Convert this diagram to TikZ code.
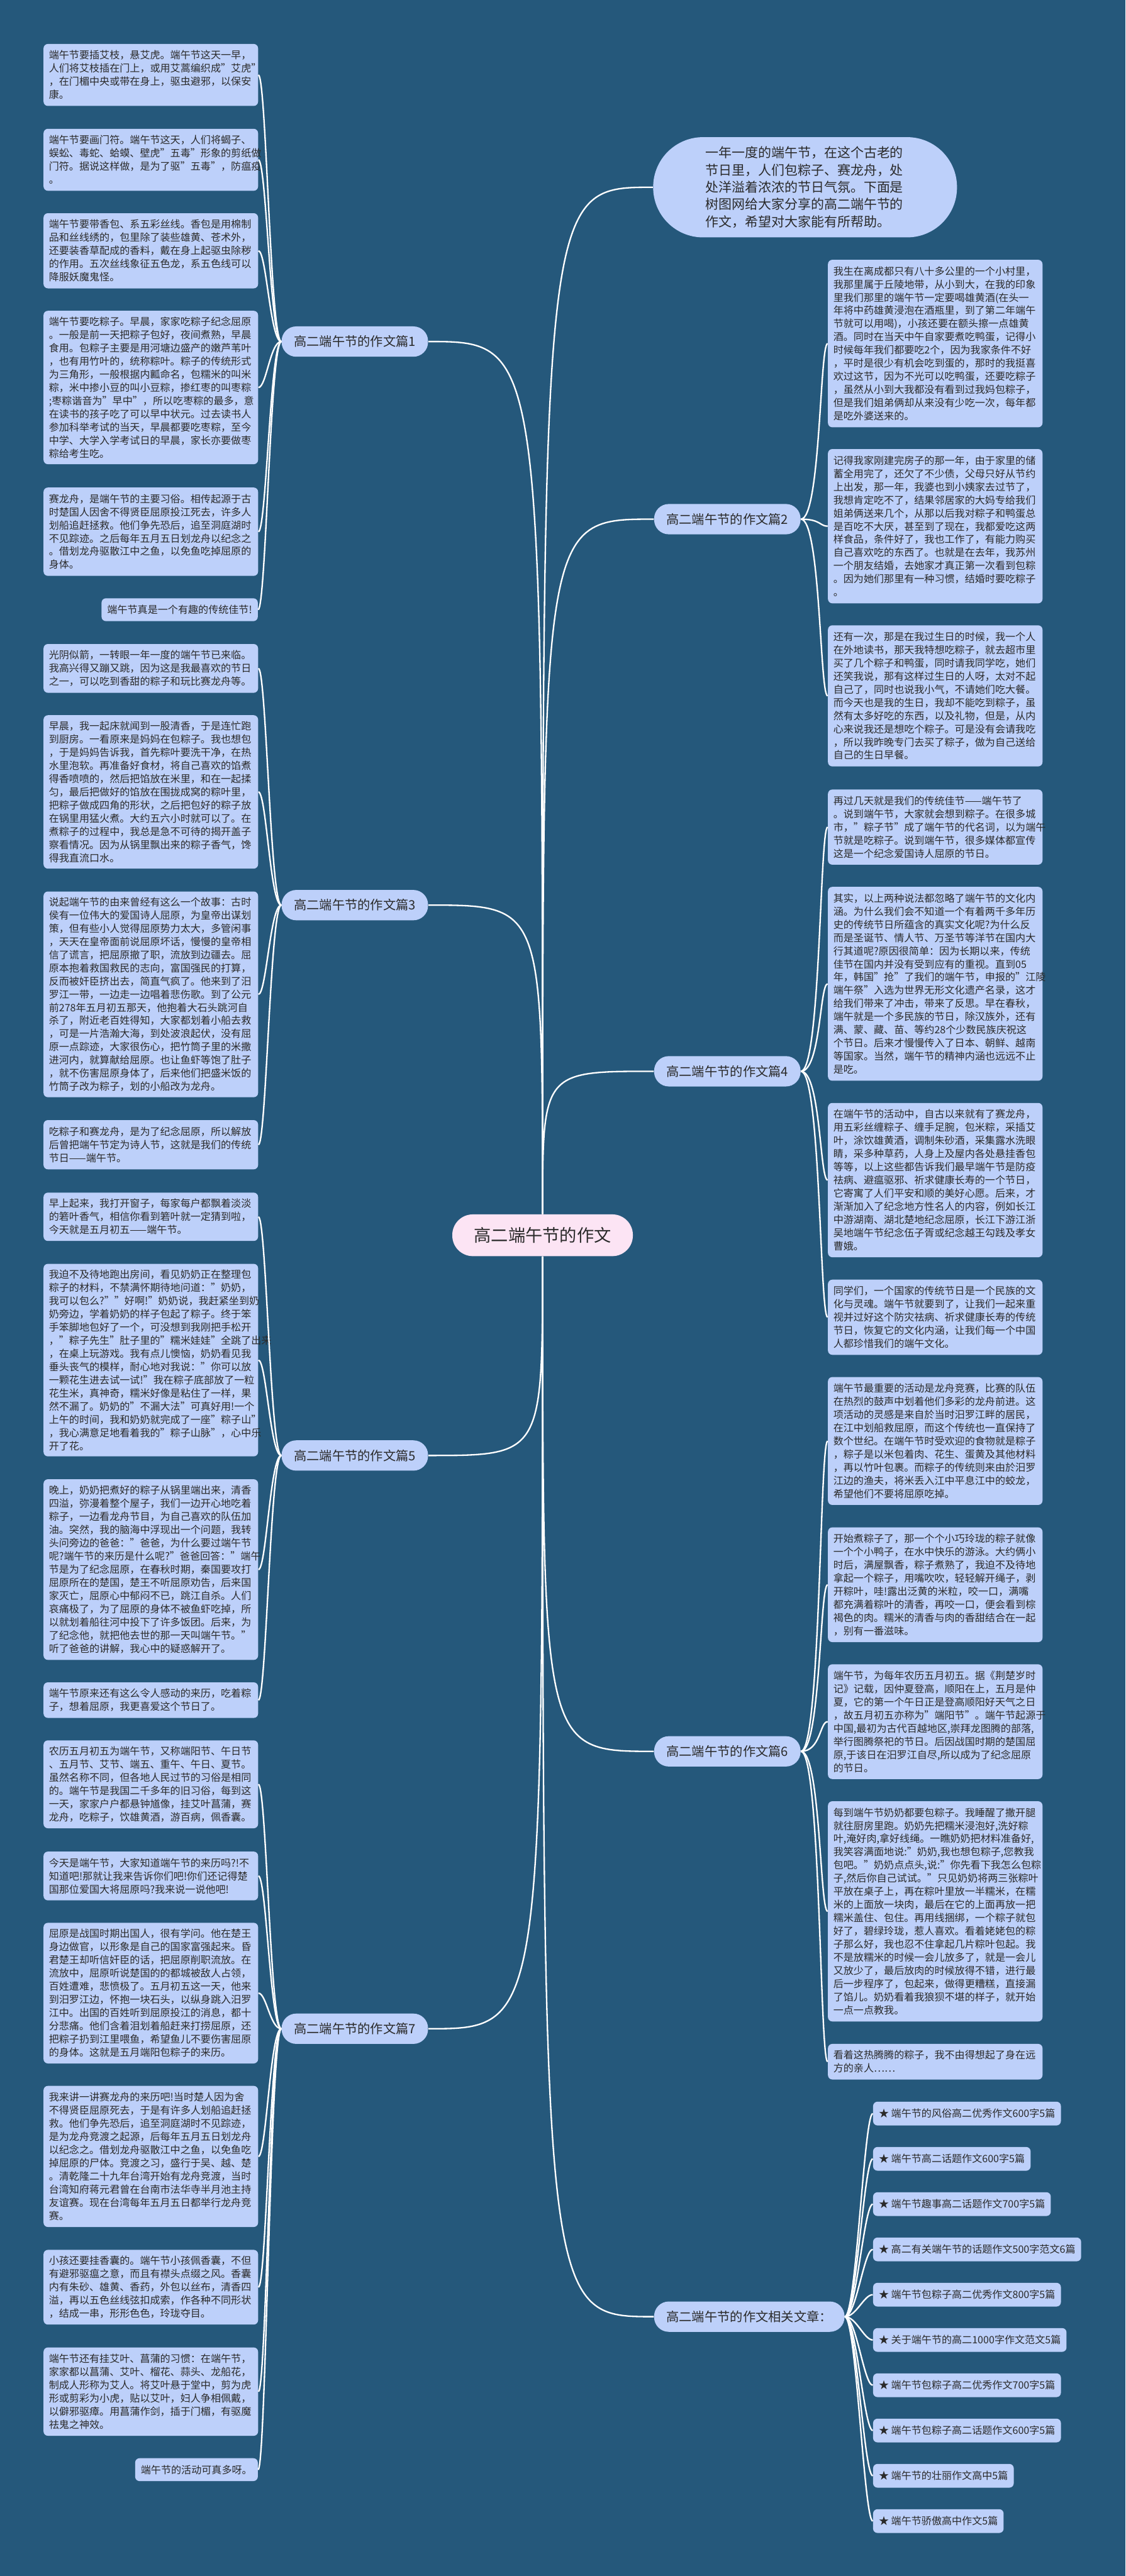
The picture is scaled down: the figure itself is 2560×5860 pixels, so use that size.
\documentclass[tikz,border=0pt]{standalone}
\usepackage{fontspec}
\setmainfont{Noto Sans CJK SC}
\definecolor{bg}{HTML}{25587B}
\definecolor{leafc}{HTML}{BDD0FA}
\definecolor{txt}{HTML}{2A2A2A}
\definecolor{ctrfill}{HTML}{FCE4F4}
\newcommand\lleaf[4]{\node[leaf,minimum height=#3*0.3pt] (#1) at (343,#2) {#4};}
\newcommand\rleaf[4]{\node[leaf,minimum height=#3*0.3pt] (#1) at (2127,#2) {#4};}
\newcommand\lcon[2]{\draw[con] (#1.west) .. controls +(-25,0) and +(18,0) .. (#2.east);}
\newcommand\rcon[2]{\draw[con] (#1.east) .. controls +(45,0) and +(-18,0) .. (#2.west);}
\newcommand\scon[2]{\draw[con] (#1.east) .. controls +(26,0) and +(-20,0) .. (#2.west);}
\begin{document}
\begin{tikzpicture}[x=0.3pt,y=-0.3pt,
  leaf/.style={fill=leafc, rounded corners=3pt, text width=139pt, inner xsep=3.7pt, inner ysep=0pt, align=left, font=\fontsize{6.9pt}{9pt}\selectfont, text=txt},
  sleaf/.style={fill=leafc, rounded corners=3pt, inner xsep=3.9pt, inner ysep=0pt, font=\fontsize{6.9pt}{9pt}\selectfont, text=txt, minimum height=15.6pt},
  item/.style={fill=leafc, rounded corners=3pt, inner xsep=3.9pt, inner ysep=0pt, font=\fontsize{6.9pt}{9pt}\selectfont, text=txt, minimum height=16.2pt, anchor=west},
  topic/.style={fill=leafc, rounded corners=10pt, font=\fontsize{8.7pt}{10pt}\selectfont, text=txt, inner xsep=8.4pt, inner ysep=0pt, minimum height=20.7pt},
  ctr/.style={fill=ctrfill, rounded corners=14pt, font=\fontsize{11.7pt}{13pt}\selectfont, text=txt, inner xsep=14.8pt, inner ysep=0pt, minimum height=28.5pt},
  intro/.style={fill=leafc, rounded corners=34pt, minimum width=207.3pt, minimum height=68.4pt, text width=136pt, align=left, font=\fontsize{9pt}{11.7pt}\selectfont, text=txt, inner sep=0pt},
  con/.style={draw=white, line width=1pt}]
\fill[bg] (0,0) rectangle (2560,5860);
\useasboundingbox (0,0) rectangle (2560,5860);

% ---------- center and topics
\node[ctr] (c) at (1234,2810) {高二端午节的作文};
\node[intro] (intro) at (1831,426) {一年一度的端午节，在这个古老的\\节日里，人们包粽子、赛龙舟，处\\处洋溢着浓浓的节日气氛。下面是\\树图网给大家分享的高二端午节的\\作文，希望对大家能有所帮助。};
\node[topic] (t1) at (807,777) {高二端午节的作文篇1};
\node[topic] (t3) at (807,2059) {高二端午节的作文篇3};
\node[topic] (t5) at (807,3311) {高二端午节的作文篇5};
\node[topic] (t7) at (807,4615) {高二端午节的作文篇7};
\node[topic,anchor=west] (t2) at (1487,1181) {高二端午节的作文篇2};
\node[topic,anchor=west] (t4) at (1487,2437) {高二端午节的作文篇4};
\node[topic,anchor=west] (t6) at (1487,3984) {高二端午节的作文篇6};
\node[topic,anchor=west] (t8) at (1487,5270) {高二端午节的作文相关文章：};

% ---------- left leaves
\lleaf{l1}{170.5}{141}{端午节要插艾枝，悬艾虎。端午节这天一早，\\人们将艾枝插在门上，或用艾蒿编织成"艾虎"\\，在门楣中央或带在身上，驱虫避邪，以保安\\康。}
\lleaf{l2}{363.5}{141}{端午节要画门符。端午节这天，人们将蝎子、\\蜈蚣、毒蛇、蛤蟆、壁虎"五毒"形象的剪纸做\\门符。据说这样做，是为了驱"五毒"，防瘟疫\\。}
\lleaf{l3}{570.5}{171}{端午节要带香包、系五彩丝线。香包是用棉制\\品和丝线绣的，包里除了装些雄黄、苍术外，\\还要装香草配成的香料，戴在身上起驱虫除秽\\的作用。五次丝线象征五色龙，系五色线可以\\降服妖魔鬼怪。}
\lleaf{l4}{881.5}{349}{端午节要吃粽子。早晨，家家吃粽子纪念屈原\\。一般是前一天把粽子包好，夜间煮熟，早晨\\食用。包粽子主要是用河塘边盛产的嫩芦苇叶\\，也有用竹叶的，统称粽叶。粽子的传统形式\\为三角形，一般根据内瓤命名，包糯米的叫米\\粽，米中掺小豆的叫小豆粽，掺红枣的叫枣粽\\;枣粽谐音为"早中"，所以吃枣粽的最多，意\\在读书的孩子吃了可以早中状元。过去读书人\\参加科举考试的当天，早晨都要吃枣粽，至今\\中学、大学入学考试日的早晨，家长亦要做枣\\粽给考生吃。}
\lleaf{l5}{1209.5}{201}{赛龙舟，是端午节的主要习俗。相传起源于古\\时楚国人因舍不得贤臣屈原投江死去，许多人\\划船追赶拯救。他们争先恐后，追至洞庭湖时\\不见踪迹。之后每年五月五日划龙舟以纪念之\\。借划龙舟驱散江中之鱼，以免鱼吃掉屈原的\\身体。}
\node[sleaf,anchor=east] (l6) at (587,1387) {端午节真是一个有趣的传统佳节!};
\lleaf{l7}{1520.5}{111}{光阴似箭，一转眼一年一度的端午节已来临。\\我高兴得又蹦又跳，因为这是我最喜欢的节日\\之一，可以吃到香甜的粽子和玩比赛龙舟等。}
\lleaf{l8}{1801.5}{349}{早晨，我一起床就闻到一股清香，于是连忙跑\\到厨房。一看原来是妈妈在包粽子。我也想包\\，于是妈妈告诉我，首先粽叶要洗干净，在热\\水里泡软。再准备好食材，将自己喜欢的馅煮\\得香喷喷的，然后把馅放在米里，和在一起揉\\匀，最后把做好的馅放在围拢成窝的粽叶里，\\把粽子做成四角的形状，之后把包好的粽子放\\在锅里用猛火煮。大约五六小时就可以了。在\\煮粽子的过程中，我总是急不可待的揭开盖子\\察看情况。因为从锅里飘出来的粽子香气，馋\\得我直流口水。}
\lleaf{l9}{2262}{468}{说起端午节的由来曾经有这么一个故事：古时\\侯有一位伟大的爱国诗人屈原，为皇帝出谋划\\策，但有些小人觉得屈原势力太大，多管闲事\\，天天在皇帝面前说屈原坏话，慢慢的皇帝相\\信了谎言，把屈原撤了职，流放到边疆去。屈\\原本抱着救国救民的志向，富国强民的打算，\\反而被奸臣挤出去，简直气疯了。他来到了汨\\罗江一带，一边走一边唱着悲伤歌。到了公元\\前278年五月初五那天，他抱着大石头跳河自\\杀了，附近老百姓得知，大家都划着小船去救\\，可是一片浩瀚大海，到处波浪起伏，没有屈\\原一点踪迹，大家很伤心，把竹筒子里的米撒\\进河内，就算献给屈原。也让鱼虾等饱了肚子\\，就不伤害屈原身体了，后来他们把盛米饭的\\竹筒子改为粽子，划的小船改为龙舟。}
\lleaf{l10}{2604}{112}{吃粽子和赛龙舟，是为了纪念屈原，所以解放\\后曾把端午节定为诗人节，这就是我们的传统\\节日——端午节。}
\lleaf{l11}{2768}{110}{早上起来，我打开窗子，每家每户都飘着淡淡\\的箬叶香气，相信你看到箬叶就一定猜到啦，\\今天就是五月初五——端午节。}
\lleaf{l12}{3094}{438}{我迫不及待地跑出房间，看见奶奶正在整理包\\粽子的材料，不禁满怀期待地问道："奶奶，\\我可以包么?""好啊!"奶奶说，我赶紧坐到奶\\奶旁边，学着奶奶的样子包起了粽子。终于笨\\手笨脚地包好了一个，可没想到我刚把手松开\\，"粽子先生"肚子里的"糯米娃娃"全跳了出来\\，在桌上玩游戏。我有点儿懊恼，奶奶看见我\\垂头丧气的模样，耐心地对我说："你可以放\\一颗花生进去试一试!"我在粽子底部放了一粒\\花生米，真神奇，糯米好像是粘住了一样，果\\然不漏了。奶奶的"不漏大法"可真好用!一个\\上午的时间，我和奶奶就完成了一座"粽子山"\\，我心满意足地看着我的"粽子山脉"，心中乐\\开了花。}
\lleaf{l13}{3570.5}{411}{晚上，奶奶把煮好的粽子从锅里端出来，清香\\四溢，弥漫着整个屋子，我们一边开心地吃着\\粽子，一边看龙舟节目，为自己喜欢的队伍加\\油。突然，我的脑海中浮现出一个问题，我转\\头问旁边的爸爸："爸爸，为什么要过端午节\\呢?端午节的来历是什么呢?"爸爸回答："端午\\节是为了纪念屈原，在春秋时期，秦国要攻打\\屈原所在的楚国，楚王不听屈原劝告，后来国\\家灭亡，屈原心中郁闷不已，跳江自杀。人们\\哀痛极了，为了屈原的身体不被鱼虾吃掉，所\\以就划着船往河中投下了许多饭团。后来，为\\了纪念他，就把他去世的那一天叫端午节。"\\听了爸爸的讲解，我心中的疑惑解开了。}
\lleaf{l14}{3867.5}{81}{端午节原来还有这么令人感动的来历，吃着粽\\子，想着屈原，我更喜爱这个节日了。}
\lleaf{l15}{4059}{200}{农历五月初五为端午节，又称端阳节、午日节\\、五月节、艾节、端五、重午、午日、夏节。\\虽然名称不同，但各地人民过节的习俗是相同\\的。端午节是我国二千多年的旧习俗，每到这\\一天，家家户户都悬钟馗像，挂艾叶菖蒲，赛\\龙舟，吃粽子，饮雄黄酒，游百病，佩香囊。}
\lleaf{l16}{4267.5}{111}{今天是端午节，大家知道端午节的来历吗?!不\\知道吧!那就让我来告诉你们吧!你们还记得楚\\国那位爱国大将屈原吗?我来说一说他吧!}
\lleaf{l17}{4534}{320}{屈原是战国时期出国人，很有学问。他在楚王\\身边做官，以形象是自己的国家富强起来。昏\\君楚王却听信奸臣的话，把屈原削职流放。在\\流放中，屈原听说楚国的的都城被敌人占领，\\百姓遭难，悲愤极了。五月初五这一天，他来\\到汨罗江边，怀抱一块石头，以纵身跳入汨罗\\江中。出国的百姓听到屈原投江的消息，都十\\分悲痛。他们含着泪划着船赶来打捞屈原，还\\把粽子扔到江里喂鱼，希望鱼儿不要伤害屈原\\的身体。这就是五月端阳包粽子的来历。}
\lleaf{l18}{4905.5}{321}{我来讲一讲赛龙舟的来历吧!当时楚人因为舍\\不得贤臣屈原死去，于是有许多人划船追赶拯\\救。他们争先恐后，追至洞庭湖时不见踪迹，\\是为龙舟竞渡之起源，后每年五月五日划龙舟\\以纪念之。借划龙舟驱散江中之鱼，以免鱼吃\\掉屈原的尸体。竞渡之习，盛行于吴、越、楚\\。清乾隆二十九年台湾开始有龙舟竞渡，当时\\台湾知府蒋元君曾在台南市法华寺半月池主持\\友谊赛。现在台湾每年五月五日都举行龙舟竞\\赛。}
\lleaf{l19}{5203}{170}{小孩还要挂香囊的。端午节小孩佩香囊，不但\\有避邪驱瘟之意，而且有襟头点缀之风。香囊\\内有朱砂、雄黄、香药，外包以丝布，清香四\\溢，再以五色丝线弦扣成索，作各种不同形状\\，结成一串，形形色色，玲珑夺目。}
\lleaf{l20}{5440.5}{201}{端午节还有挂艾叶、菖蒲的习惯：在端午节，\\家家都以菖蒲、艾叶、榴花、蒜头、龙船花，\\制成人形称为艾人。将艾叶悬于堂中，剪为虎\\形或剪彩为小虎，贴以艾叶，妇人争相佩戴，\\以僻邪驱瘴。用菖蒲作剑，插于门楣，有驱魔\\祛鬼之神效。}
\node[sleaf,anchor=east] (l21) at (587,5618) {端午节的活动可真多呀。};

% ---------- right leaves
\rleaf{r1}{781.5}{381}{我生在离成都只有八十多公里的一个小村里，\\我那里属于丘陵地带，从小到大，在我的印象\\里我们那里的端午节一定要喝雄黄酒(在头一\\年将中药雄黄浸泡在酒瓶里，到了第二年端午\\节就可以用喝)，小孩还要在额头擦一点雄黄\\酒。同时在当天中午自家要煮吃鸭蛋，记得小\\时候每年我们都要吃2个，因为我家条件不好\\，平时是很少有机会吃到蛋的，那时的我挺喜\\欢过这节，因为不光可以吃鸭蛋，还要吃粽子\\，虽然从小到大我都没有看到过我妈包粽子，\\但是我们姐弟俩却从来没有少吃一次，每年都\\是吃外婆送来的。}
\rleaf{r2}{1197}{351}{记得我家刚建完房子的那一年，由于家里的储\\蓄全用完了，还欠了不少债，父母只好从节约\\上出发，那一年，我婆也到小姨家去过节了，\\我想肯定吃不了，结果邻居家的大妈专给我们\\姐弟俩送来几个，从那以后我对粽子和鸭蛋总\\是百吃不大厌，甚至到了现在，我都爱吃这两\\样食品，条件好了，我也工作了，有能力购买\\自己喜欢吃的东西了。也就是在去年，我苏州\\一个朋友结婚，去她家才真正第一次看到包粽\\。因为她们那里有一种习惯，结婚时要吃粽子\\。}
\rleaf{r3}{1583}{321}{还有一次，那是在我过生日的时候，我一个人\\在外地读书，那天我特想吃粽子，就去超市里\\买了几个粽子和鸭蛋，同时请我同学吃，她们\\还笑我说，那有这样过生日的人呀，太对不起\\自己了，同时也说我小气，不请她们吃大餐。\\而今天也是我的生日，我却不能吃到粽子，虽\\然有太多好吃的东西，以及礼物，但是，从内\\心来说我还是想吃个粽子。可是没有会请我吃\\，所以我昨晚专门去买了粽子，做为自己送给\\自己的生日早餐。}
\rleaf{r4}{1881.5}{171}{再过几天就是我们的传统佳节——端午节了\\。说到端午节，大家就会想到粽子。在很多城\\市，"粽子节"成了端午节的代名词，以为端午\\节就是吃粽子。说到端午节，很多媒体都宣传\\这是一个纪念爱国诗人屈原的节日。}
\rleaf{r5}{2238}{441}{其实，以上两种说法都忽略了端午节的文化内\\涵。为什么我们会不知道一个有着两千多年历\\史的传统节日所蕴含的真实文化呢?为什么反\\而是圣诞节、情人节、万圣节等洋节在国内大\\行其道呢?原因很简单：因为长期以来，传统\\佳节在国内并没有受到应有的重视。直到05\\年，韩国"抢"了我们的端午节，申报的"江陵\\端午祭"入选为世界无形文化遗产名录，这才\\给我们带来了冲击，带来了反思。早在春秋，\\端午就是一个多民族的节日，除汉族外，还有\\满、蒙、藏、苗、等约28个少数民族庆祝这\\个节日。后来才慢慢传入了日本、朝鲜、越南\\等国家。当然，端午节的精神内涵也远远不止\\是吃。}
\rleaf{r6}{2684.5}{351}{在端午节的活动中，自古以来就有了赛龙舟，\\用五彩丝缠粽子、缠手足腕，包米粽，采插艾\\叶，涂饮雄黄酒，调制朱砂酒，采集露水洗眼\\睛，采多种草药，人身上及屋内各处悬挂香包\\等等，以上这些都告诉我们最早端午节是防疫\\祛病、避瘟驱邪、祈求健康长寿的一个节日，\\它寄寓了人们平安和顺的美好心愿。后来，才\\渐渐加入了纪念地方性名人的内容，例如长江\\中游湖南、湖北楚地纪念屈原，长江下游江浙\\吴地端午节纪念伍子胥或纪念越王勾践及孝女\\曹娥。}
\rleaf{r7}{2996.5}{171}{同学们，一个国家的传统节日是一个民族的文\\化与灵魂。端午节就要到了，让我们一起来重\\视并过好这个防灾祛病、祈求健康长寿的传统\\节日，恢复它的文化内涵，让我们每一个中国\\人都珍惜我们的端午文化。}
\rleaf{r8}{3278}{291}{端午节最重要的活动是龙舟竞赛，比赛的队伍\\在热烈的鼓声中划着他们多彩的龙舟前进。这\\项活动的灵感是来自於当时汨罗江畔的居民，\\在江中划船救屈原，而这个传统也一直保持了\\数个世纪。在端午节时受欢迎的食物就是粽子\\，粽子是以米包着肉、花生、蛋黄及其他材料\\，再以竹叶包裹。而粽子的传统则来由於汨罗\\江边的渔夫，将米丢入江中平息江中的蛟龙，\\希望他们不要将屈原吃掉。}
\rleaf{r9}{3605}{261}{开始煮粽子了，那一个个小巧玲珑的粽子就像\\一个个小鸭子，在水中快乐的游泳。大约俩小\\时后，满屋飘香，粽子煮熟了，我迫不及待地\\拿起一个粽子，用嘴吹吹，轻轻解开绳子，剥\\开粽叶，哇!露出泛黄的米粒，咬一口，满嘴\\都充满着粽叶的清香，再咬一口，便会看到棕\\褐色的肉。糯米的清香与肉的香甜结合在一起\\，别有一番滋味。}
\rleaf{r10}{3916.5}{261}{端午节，为每年农历五月初五。据《荆楚岁时\\记》记载，因仲夏登高，顺阳在上，五月是仲\\夏，它的第一个午日正是登高顺阳好天气之日\\，故五月初五亦称为"端阳节"。端午节起源于\\中国,最初为古代百越地区,崇拜龙图腾的部落,\\举行图腾祭祀的节日。后因战国时期的楚国屈\\原,于该日在汨罗江自尽,所以成为了纪念屈原\\的节日。}
\rleaf{r11}{4348}{501}{每到端午节奶奶都要包粽子。我睡醒了撒开腿\\就往厨房里跑。奶奶先把糯米浸泡好,洗好粽\\叶,淹好肉,拿好线绳。一瞧奶奶把材料准备好,\\我笑容满面地说:"奶奶,我也想包粽子,您教我\\包吧。"奶奶点点头,说:"你先看下我怎么包粽\\子,然后你自己试试。"只见奶奶将两三张粽叶\\平放在桌子上，再在粽叶里放一半糯米，在糯\\米的上面放一块肉，最后在它的上面再放一把\\糯米盖住、包住。再用线捆绑，一个粽子就包\\好了，碧绿玲珑，惹人喜欢。看着姥姥包的粽\\子那么好，我也忍不住拿起几片粽叶包起。我\\不是放糯米的时候一会儿放多了，就是一会儿\\又放少了，最后放肉的时候放得不错，进行最\\后一步程序了，包起来，做得更糟糕，直接漏\\了馅儿。奶奶看着我狼狈不堪的样子，就开始\\一点一点教我。}
\rleaf{r12}{4690}{81}{看着这热腾腾的粽子，我不由得想起了身在远\\方的亲人……}

% ---------- related articles
\node[item] (s1) at (1985,4808) {★ 端午节的风俗高二优秀作文600字5篇};
\node[item] (s2) at (1985,4911) {★ 端午节高二话题作文600字5篇};
\node[item] (s3) at (1985,5014) {★ 端午节趣事高二话题作文700字5篇};
\node[item] (s4) at (1985,5117) {★ 高二有关端午节的话题作文500字范文6篇};
\node[item] (s5) at (1985,5220) {★ 端午节包粽子高二优秀作文800字5篇};
\node[item] (s6) at (1985,5323) {★ 关于端午节的高二1000字作文范文5篇};
\node[item] (s7) at (1985,5426) {★ 端午节包粽子高二优秀作文700字5篇};
\node[item] (s8) at (1985,5529) {★ 端午节包粽子高二话题作文600字5篇};
\node[item] (s9) at (1985,5632) {★ 端午节的壮丽作文高中5篇};
\node[item] (s10) at (1985,5735) {★ 端午节骄傲高中作文5篇};

% ---------- connectors: center to topics
\foreach \t in {t1,t3}
  \draw[con] (c.north) .. controls (c.north |- \t.east) .. (\t.east);
\foreach \t in {t5,t7}
  \draw[con] (c.south) .. controls (c.south |- \t.east) .. (\t.east);
\foreach \t in {intro,t2,t4}
  \draw[con] (c.north) .. controls (c.north |- \t.west) .. (\t.west);
\foreach \t in {t6,t8}
  \draw[con] (c.south) .. controls (c.south |- \t.west) .. (\t.west);

% ---------- connectors: topics to leaves
\foreach \l in {l1,l2,l3,l4,l5,l6} {\lcon{t1}{\l}}
\foreach \l in {l7,l8,l9,l10} {\lcon{t3}{\l}}
\foreach \l in {l11,l12,l13,l14} {\lcon{t5}{\l}}
\foreach \l in {l15,l16,l17,l18,l19,l20,l21} {\lcon{t7}{\l}}
\foreach \r in {r1,r2,r3} {\rcon{t2}{\r}}
\foreach \r in {r4,r5,r6,r7} {\rcon{t4}{\r}}
\foreach \r in {r8,r9,r10,r11,r12} {\rcon{t6}{\r}}
\foreach \s in {s1,s2,s3,s4,s5,s6,s7,s8,s9,s10} {\scon{t8}{\s}}
\end{tikzpicture}
\end{document}
